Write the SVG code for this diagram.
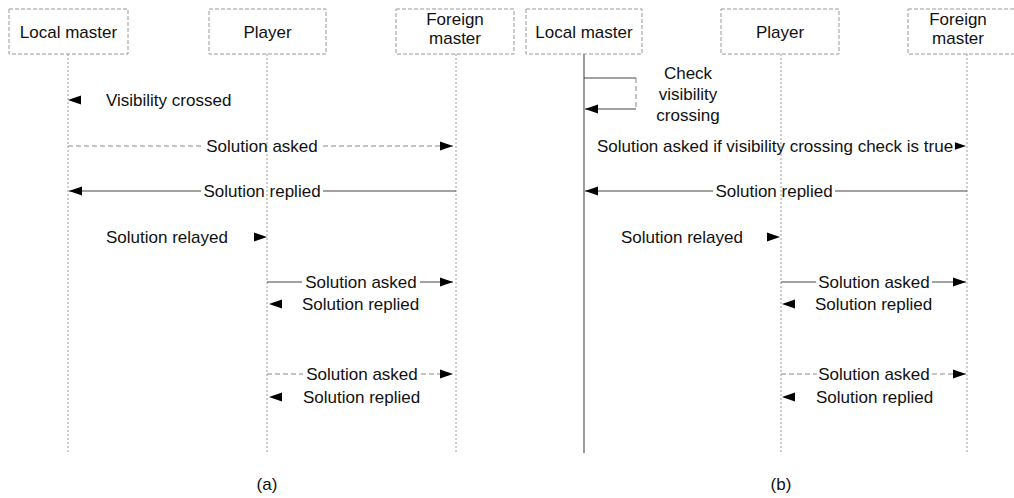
<svg xmlns="http://www.w3.org/2000/svg" width="1014" height="498" viewBox="0 0 1014 498">
  <style>
    text { font-family: "Liberation Sans", Arial, sans-serif; font-size: 17px; fill: #111; }
    .box { fill: #fff; stroke: #999; stroke-width: 1; stroke-dasharray: 4 2; }
    .life { stroke: #9a9a9a; stroke-width: 1; stroke-dasharray: 2 2; fill: none; }
    .life-solid { stroke: #666; stroke-width: 1.3; fill: none; }
    .msg { stroke: #444; stroke-width: 1; fill: none; }
    .msg-dash { stroke: #888; stroke-width: 1; stroke-dasharray: 5 3; fill: none; }
    .head { fill: #000; }
    .mid { text-anchor: middle; }
  </style>
  <defs>
    <!-- arrowhead pointing right, tip at the origin -->
    <path id="ah" d="M0,0 L-13,-4.5 L-13,4.5 Z"/>
    <marker id="arr" markerUnits="userSpaceOnUse" markerWidth="14" markerHeight="10" viewBox="-13 -5 14 10" refX="0" refY="0" orient="auto">
      <path d="M0,0 L-13,-4.5 L-13,4.5 Z" fill="#000"/>
    </marker>
  </defs>

  <rect width="1014" height="498" fill="#fff"/>

  <!-- ===== (a) ===== -->
  <g id="a-lifelines">
    <line class="life" x1="68" y1="54" x2="68" y2="452"/>
    <line class="life" x1="267" y1="54" x2="267" y2="452"/>
    <line class="life" x1="456" y1="54" x2="456" y2="452"/>
  </g>
  <g id="a-local-master">
    <rect class="box" x="9" y="9" width="119" height="45"/>
    <text class="mid" x="68.5" y="38">Local master</text>
  </g>
  <g id="a-player">
    <rect class="box" x="209" y="9" width="117" height="45"/>
    <text class="mid" x="267.5" y="38">Player</text>
  </g>
  <g id="a-foreign-master">
    <rect class="box" x="396" y="9" width="118" height="45"/>
    <text class="mid" x="455" y="25">Foreign</text>
    <text class="mid" x="455" y="44">master</text>
  </g>

  <g id="a-connectors">
    <!-- visibility crossed (self note) -->
    <use href="#ah" class="head" transform="translate(68,100) rotate(180)"/>
    <text x="106" y="106">Visibility crossed</text>
    <!-- solution asked, dashed -->
    <line class="msg-dash" x1="68" y1="146" x2="201" y2="146"/>
    <line class="msg-dash" x1="323" y1="146" x2="453" y2="146" marker-end="url(#arr)"/>
    <text class="mid" x="262" y="152">Solution asked</text>
    <!-- solution replied -->
    <line class="msg" x1="456" y1="191" x2="323" y2="191"/>
    <line class="msg" x1="201" y1="191" x2="69" y2="191" marker-end="url(#arr)"/>
    <text class="mid" x="262" y="197">Solution replied</text>
    <!-- solution relayed -->
    <text x="106" y="243">Solution relayed</text>
    <use href="#ah" class="head" transform="translate(267,237)"/>
    <!-- player exchange 1 -->
    <line class="msg" x1="267" y1="282" x2="302" y2="282"/>
    <line class="msg" x1="420" y1="282" x2="453" y2="282" marker-end="url(#arr)"/>
    <text class="mid" x="361" y="288">Solution asked</text>
    <use href="#ah" class="head" transform="translate(269,304) rotate(180)"/>
    <text x="302" y="310">Solution replied</text>
    <!-- player exchange 2 -->
    <line class="msg-dash" x1="267" y1="374" x2="303" y2="374"/>
    <line class="msg-dash" x1="421" y1="374" x2="453" y2="374" marker-end="url(#arr)"/>
    <text class="mid" x="362" y="380">Solution asked</text>
    <use href="#ah" class="head" transform="translate(269,397) rotate(180)"/>
    <text x="303" y="403">Solution replied</text>
  </g>
  <text class="mid" x="267" y="490">(a)</text>

  <!-- ===== (b) ===== -->
  <g id="b-lifelines">
    <line class="life-solid" x1="584" y1="54" x2="584" y2="453"/>
    <line class="life" x1="781" y1="54" x2="781" y2="452"/>
    <line class="life" x1="967" y1="54" x2="967" y2="452"/>
  </g>
  <g id="b-local-master">
    <rect class="box" x="526" y="9" width="116" height="45"/>
    <text class="mid" x="584" y="38">Local master</text>
  </g>
  <g id="b-player">
    <rect class="box" x="721" y="9" width="118" height="45"/>
    <text class="mid" x="780" y="38">Player</text>
  </g>
  <g id="b-foreign-master">
    <rect class="box" x="908" y="9" width="118" height="45"/>
    <text class="mid" x="958" y="25">Foreign</text>
    <text class="mid" x="958" y="44">master</text>
  </g>

  <g id="b-connectors">
    <!-- self check loop -->
    <line class="msg" x1="584" y1="78" x2="636" y2="78"/>
    <line class="msg-dash" x1="636" y1="78" x2="636" y2="109"/>
    <line class="msg" x1="636" y1="109" x2="585" y2="109" marker-end="url(#arr)"/>
    <text class="mid" x="688" y="79">Check</text>
    <text class="mid" x="688" y="100">visibility</text>
    <text class="mid" x="688" y="121">crossing</text>
    <!-- conditional request -->
    <text class="mid" x="775" y="152">Solution asked if visibility crossing check is true</text>
    <use href="#ah" class="head" transform="translate(966,146) scale(0.85)"/>
    <!-- solution replied -->
    <line class="msg" x1="967" y1="191" x2="835" y2="191"/>
    <line class="msg" x1="713" y1="191" x2="585" y2="191" marker-end="url(#arr)"/>
    <text class="mid" x="774" y="197">Solution replied</text>
    <!-- solution relayed -->
    <text x="621" y="243">Solution relayed</text>
    <use href="#ah" class="head" transform="translate(780,237)"/>
    <!-- player exchange 1 -->
    <line class="msg" x1="781" y1="282" x2="816" y2="282"/>
    <line class="msg" x1="932" y1="282" x2="966" y2="282" marker-end="url(#arr)"/>
    <text class="mid" x="874" y="288">Solution asked</text>
    <use href="#ah" class="head" transform="translate(782,304) rotate(180)"/>
    <text x="815" y="310">Solution replied</text>
    <!-- player exchange 2 -->
    <line class="msg-dash" x1="781" y1="374" x2="817" y2="374"/>
    <line class="msg-dash" x1="932" y1="374" x2="966" y2="374" marker-end="url(#arr)"/>
    <text class="mid" x="874" y="380">Solution asked</text>
    <use href="#ah" class="head" transform="translate(782,397) rotate(180)"/>
    <text x="816" y="403">Solution replied</text>
  </g>
  <text class="mid" x="781" y="490">(b)</text>
</svg>
